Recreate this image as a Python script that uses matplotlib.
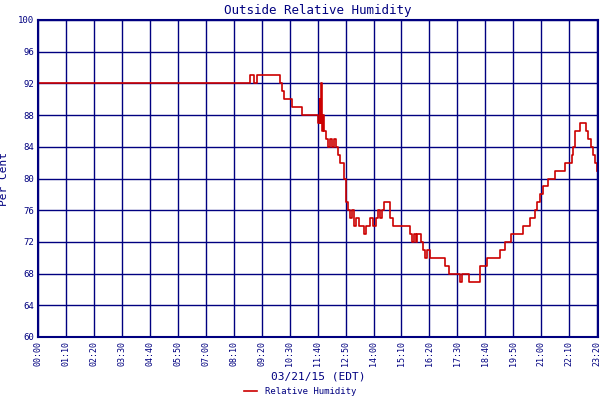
import matplotlib.pyplot as plt
import numpy as np

# minutes after midnight, relative humidity (%)
minutes = [0, 532, 540, 548, 550, 607, 612, 617, 637, 662, 690, 700, 705, 707, 709, 711, 713,
           716, 720, 725, 730, 735, 740, 745, 750, 755, 765, 770, 775, 780, 787, 792, 797, 803,
           810, 815, 822, 830, 838, 845, 850, 855, 862, 867, 877, 882, 890,
           932, 937, 942, 946, 950, 958, 965, 970, 975, 982, 1000, 1020, 1030, 1040, 1052, 1056,
           1062, 1080, 1107, 1125, 1145, 1157, 1170, 1185, 1195, 1215, 1222, 1232, 1245, 1250,
           1257, 1265, 1277, 1295, 1307, 1320, 1332, 1337, 1340, 1345, 1358, 1365, 1372, 1377,
           1384, 1390, 1395, 1400]
rh = [92, 93, 92, 93, 93, 92, 91, 90, 89, 88, 88, 87, 90, 87, 92, 86, 88,
      86, 85, 84, 85, 84, 85, 84, 83, 82, 80, 77, 76, 75, 76, 74, 75, 74,
      74, 73, 74, 75, 74, 75, 76, 75, 76, 77, 77, 75, 74,
      73, 72, 73, 72, 73, 72, 71, 70, 71, 70, 70, 69, 68, 68, 68, 67,
      68, 67, 69, 70, 70, 71, 72, 73, 73, 74, 74, 75, 76, 77,
      78, 79, 80, 81, 81, 82, 82, 83, 84, 86, 87, 87, 86, 85,
      84, 83, 82, 81, 80]
n = min(len(minutes), len(rh))
minutes, rh = minutes[:n], rh[:n]
tick_min = np.arange(0, 1401, 70)
tick_labels = ["%02d:%02d" % (m // 60, m % 60) for m in tick_min]

navy = "#000080"
font = "DejaVu Sans Mono"
fig = plt.figure(figsize=(6, 4), dpi=100)
ax = fig.add_axes([38 / 600, 63 / 400, 560 / 600, 317 / 400])
ax.step(minutes, rh, where="post", color="#cc0000", lw=1.2, label="Relative Humidity")
ax.set_xlim(0, 1402)
ax.set_ylim(60, 100)
ax.set_xticks(tick_min)
ax.set_xticklabels(tick_labels, rotation=90, fontsize=6, color=navy, family=font)
ax.set_yticks(np.arange(60, 101, 4))
ax.set_yticklabels([str(v) for v in range(60, 101, 4)], fontsize=6.5, color=navy, family=font)
ax.grid(True, color=navy, lw=1)
ax.tick_params(length=0, pad=3)
for s in ax.spines.values():
    s.set_color(navy)
    s.set_linewidth(1.5)
ax.set_title("Outside Relative Humidity", fontsize=9, color=navy, family=font, pad=4)
ax.set_ylabel("Per Cent", fontsize=8, color=navy, family=font, labelpad=6)
ax.set_xlabel("03/21/15 (EDT)", fontsize=8, color=navy, family=font, labelpad=4)
fig.legend(loc="lower center", bbox_to_anchor=(0.5, -0.01), frameon=False,
           prop={"family": font, "size": 6.5}, labelcolor=navy, handlelength=1.5)
fig.savefig("out.png", dpi=100)
